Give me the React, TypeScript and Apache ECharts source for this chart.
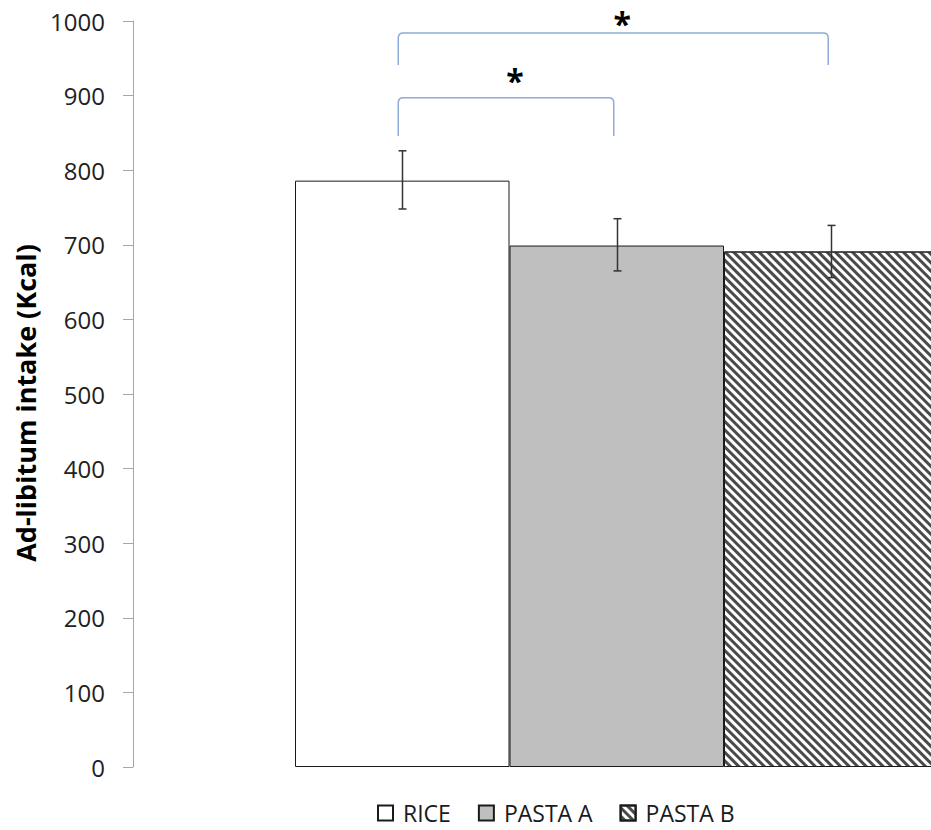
import React, { useEffect, useRef } from "react";
import * as echarts from "echarts";

const categories = ["RICE", "PASTA A", "PASTA B"];
const means = [786, 699, 691];
const errLow = [748, 665, 656];
const errHigh = [826, 735, 726];

const bracketFrom = [0, 0];
const bracketTo = [1, 2];
const bracketTop = [897, 984];
const bracketBottom = [846, 941];
const bracketLabel = ["*", "*"];
const bracketLabelY = [920, 996];

const yMin = 0;
const yMax = 1000;
const yInterval = 100;

const FONT = "'Open Sans', 'Noto Sans', sans-serif";

export default function App() {
  const ref = useRef<HTMLDivElement>(null);

  useEffect(() => {
    if (!ref.current) return;
    const chart = echarts.init(ref.current, undefined, { renderer: "svg" });

    const barStyles = [
      { color: "#ffffff", borderColor: "#1a1a1a", borderWidth: 1 },
      { color: "#bfbfbf", borderColor: "#1a1a1a", borderWidth: 1 },
      {
        color: "#ffffff",
        borderColor: "#1a1a1a",
        borderWidth: 1,
        decal: {
          symbol: "rect",
          symbolSize: 1,
          dashArrayX: [1, 0],
          dashArrayY: [2.4, 2.9],
          rotation: Math.PI / 4,
          color: "#4a4a4a",
          backgroundColor: "#ffffff",
        },
      },
    ];

    const barSeries = categories.map((name, i) => ({
      type: "bar",
      name,
      data: categories.map((_, j) => (j === i ? means[i] : "-")),
      barWidth: "100%",
      barGap: "-100%",
      itemStyle: barStyles[i],
      emphasis: { disabled: true },
    }));

    const option: any = {
      animation: false,
      aria: { enabled: false },
      grid: { left: 295, width: 643.5, top: 21, bottom: 63 },
      legend: {
        data: categories,
        left: 372,
        top: 796,
        icon: "rect",
        itemWidth: 15,
        itemHeight: 15,
        itemGap: 27,
        textStyle: {
          fontFamily: FONT,
          fontSize: 23,
          lineHeight: 24,
          color: "#1a1a1a",
          padding: [0, 0, 0, 5],
        },
        selectedMode: false,
      },
      xAxis: {
        type: "category",
        data: categories,
        boundaryGap: true,
        axisLine: { show: false },
        axisTick: { show: false },
        axisLabel: { show: false },
      },
      yAxis: {
        type: "value",
        min: yMin,
        max: yMax,
        interval: yInterval,
        offset: 162,
        name: "Ad-libitum intake (Kcal)",
        nameLocation: "middle",
        nameGap: 73,
        nameTextStyle: {
          fontFamily: FONT,
          fontSize: 27,
          fontWeight: "bold",
          color: "#000",
          padding: [0, 18, 0, 0],
        },
        axisLine: { show: true, lineStyle: { color: "#a6a6a6", width: 1 } },
        axisTick: { show: true, length: 10, lineStyle: { color: "#a6a6a6" } },
        axisLabel: {
          fontFamily: FONT,
          fontSize: 24,
          color: "#222",
          margin: 28,
          formatter: (v: number) => String(v),
        },
        splitLine: { show: false },
      },
      series: [
        ...barSeries,
        {
          type: "custom",
          name: "error",
          z: 5,
          data: categories.map((_, i) => [i, errLow[i], errHigh[i]]),
          renderItem: (params: any, api: any) => {
            const lo = api.coord([api.value(0), api.value(1)]);
            const hi = api.coord([api.value(0), api.value(2)]);
            const x = Math.round(lo[0]) + 0.5;
            const cap = 4;
            const style = { stroke: "#333", lineWidth: 1.5 };
            return {
              type: "group",
              children: [
                { type: "line", shape: { x1: x, y1: lo[1], x2: x, y2: hi[1] }, style },
                { type: "line", shape: { x1: x - cap, y1: lo[1], x2: x + cap, y2: lo[1] }, style },
                { type: "line", shape: { x1: x - cap, y1: hi[1], x2: x + cap, y2: hi[1] }, style },
              ],
            };
          },
        },
        {
          type: "custom",
          name: "brackets",
          z: 6,
          clip: false,
          data: bracketFrom.map((f, i) => [f, bracketTo[i], bracketTop[i], bracketBottom[i], bracketLabelY[i], i]),
          renderItem: (params: any, api: any) => {
            const p1 = api.coord([api.value(0), api.value(2)]);
            const p2 = api.coord([api.value(1), api.value(2)]);
            const yb = api.coord([api.value(0), api.value(3)])[1];
            const yl = api.coord([api.value(0), api.value(4)])[1];
            const x1 = p1[0] - 4;
            const x2 = p2[0] - 3;
            const yt = p1[1];
            const r = 5;
            const d = `M${x1} ${yb} L${x1} ${yt + r} Q${x1} ${yt} ${x1 + r} ${yt} L${x2 - r} ${yt} Q${x2} ${yt} ${x2} ${yt + r} L${x2} ${yb}`;
            const idx = api.value(5);
            return {
              type: "group",
              children: [
                {
                  type: "path",
                  shape: { pathData: d },
                  style: { fill: "none", stroke: "#8eaadb", lineWidth: 1.5 },
                },
                {
                  type: "text",
                  x: (x1 + x2) / 2 + 9,
                  y: yl,
                  style: {
                    text: bracketLabel[idx],
                    fontFamily: FONT,
                    fontSize: 32,
                    fontWeight: "bold",
                    fill: "#000",
                    align: "center",
                    verticalAlign: "middle",
                  },
                },
              ],
            };
          },
        },
      ],
    };

    chart.setOption(option);
    return () => chart.dispose();
  }, []);

  return (
    <div
      style={{
        position: "fixed",
        left: 0,
        top: 0,
        width: 931,
        height: 830,
        overflow: "hidden",
        background: "#fff",
      }}
    >
      <div ref={ref} style={{ width: 960, height: 830 }} />
    </div>
  );
}
